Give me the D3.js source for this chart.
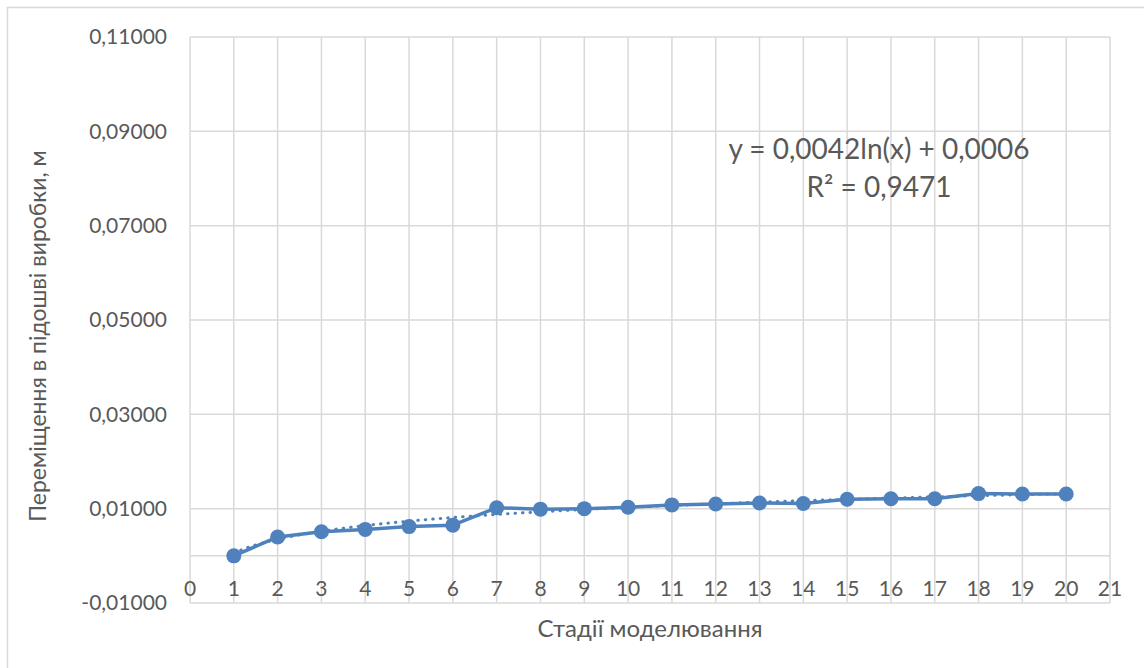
<!DOCTYPE html>
<html>
<head>
<meta charset="utf-8">
<script src="https://cdn.jsdelivr.net/npm/d3@7"></script>
<style>
  html, body { margin: 0; padding: 0; background: #fff; }
  svg { display: block; }
  text { font-family: Lato, "Open Sans", "Noto Sans", sans-serif; fill: #595959; }
</style>
</head>
<body>
<svg id="chart" width="1144" height="668"></svg>
<script>
// ---- data ----
const stages = [1,2,3,4,5,6,7,8,9,10,11,12,13,14,15,16,17,18,19,20];
const displacement = [0.0000,0.0040,0.0051,0.0056,0.0062,0.0065,0.0102,0.0099,0.0100,0.0103,
                      0.0108,0.0110,0.0112,0.0111,0.0120,0.0121,0.0121,0.0132,0.0131,0.0131];
const xTicks = d3.range(0, 22);
const yTicks = [-0.01, 0.01, 0.03, 0.05, 0.07, 0.09, 0.11];
const trendCoef = [0.0042, 0.0006];   // y = a*ln(x) + b
const equationLines = ["y = 0,0042ln(x) + 0,0006", "R² = 0,9471"];
const xTitle = "Стадії моделювання";
const yTitle = "Переміщення в підошві виробки, м";

// ---- layout ----
const svg = d3.select("#chart");
const pLeft = 190, pRight = 1110, pTop = 37, pBottom = 603;
const x = d3.scaleLinear().domain([0, 21]).range([pLeft, pRight]);
const y = d3.scaleLinear().domain([-0.01, 0.11]).range([pBottom, pTop]);
const blue = "#4f81bd", grid = "#d9d9d9";

// outer chart border (only top/left visible)
svg.append("rect").attr("x", 7.5).attr("y", 7.5).attr("width", 1200).attr("height", 700)
  .attr("fill", "none").attr("stroke", grid).attr("stroke-width", 1.5);

// gridlines
svg.append("g").selectAll("line").data(xTicks).join("line")
  .attr("x1", d => x(d)).attr("x2", d => x(d)).attr("y1", pTop).attr("y2", pBottom)
  .attr("stroke", grid).attr("stroke-width", 1.5);
svg.append("g").selectAll("line").data(yTicks.concat([0])).join("line")
  .attr("x1", pLeft).attr("x2", pRight).attr("y1", d => y(d)).attr("y2", d => y(d))
  .attr("stroke", grid).attr("stroke-width", 1.5);

// y tick labels
const fmt = v => d3.format(".5f")(v).replace(".", ",").replace("−", "-");
svg.append("g").selectAll("text").data(yTicks).join("text")
  .attr("x", 167).attr("y", d => y(d)).attr("dy", "0.35em")
  .attr("text-anchor", "end").attr("font-size", 21).text(fmt);

// x tick labels
svg.append("g").selectAll("text").data(xTicks).join("text")
  .attr("x", d => x(d)).attr("y", 596)
  .attr("text-anchor", "middle").attr("font-size", 21).text(d => d);

const line = d3.line().x(d => x(d[0])).y(d => y(d[1]));

// series line
const pts = stages.map((s, i) => [s, displacement[i]]);
svg.append("path").datum(pts).attr("d", line)
  .attr("fill", "none").attr("stroke", blue).attr("stroke-width", 3.5).attr("stroke-linejoin", "round");

// trendline (dotted)
const trendPts = d3.range(1, 20.001, 0.1).map(t => [t, trendCoef[0] * Math.log(t) + trendCoef[1]]);
svg.append("path").datum(trendPts).attr("d", line)
  .attr("fill", "none").attr("stroke", blue).attr("stroke-width", 3)
  .attr("stroke-dasharray", "0.5 7").attr("stroke-linecap", "round");

// markers
svg.append("g").selectAll("circle").data(pts).join("circle")
  .attr("cx", d => x(d[0])).attr("cy", d => y(d[1])).attr("r", 7.5)
  .attr("fill", blue);

// equation
svg.append("g").selectAll("text").data(equationLines).join("text")
  .attr("x", 879).attr("y", (d, i) => 159 + i * 38)
  .attr("text-anchor", "middle").attr("font-size", 28).text(d => d);

// axis titles
svg.append("text").attr("x", (pLeft + pRight) / 2).attr("y", 637)
  .attr("text-anchor", "middle").attr("font-size", 24).text(xTitle);
svg.append("text").attr("transform", "translate(46,336) rotate(-90)")
  .attr("text-anchor", "middle").attr("font-size", 23).text(yTitle);
</script>
</body>
</html>
